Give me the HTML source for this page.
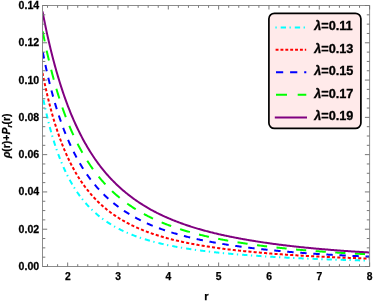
<!DOCTYPE html>
<html><head><meta charset="utf-8"><style>
html,body{margin:0;padding:0;background:#fff;}
svg .lg text{stroke:#000;stroke-width:0.3px;}
svg{display:block;font-family:"Liberation Sans",sans-serif;font-weight:bold;}
</style></head><body>
<svg width="373" height="301" viewBox="0 0 373 301">
<rect width="373" height="301" fill="#fff"/>
<defs><clipPath id="c"><rect x="42.5" y="5.5" width="327.1" height="261.0"/></clipPath></defs>
<g clip-path="url(#c)">
<path d="M42.50,95.09 L43.32,99.22 L44.14,103.20 L44.96,107.04 L45.78,110.75 L46.60,114.33 L47.42,117.79 L48.24,121.13 L49.06,124.36 L49.88,127.48 L50.70,130.50 L51.52,133.43 L52.34,136.26 L53.16,139.00 L53.98,141.65 L54.80,144.23 L55.62,146.72 L56.44,149.14 L57.26,151.48 L58.08,153.76 L58.90,155.96 L59.72,158.11 L60.54,160.19 L61.36,162.22 L62.18,164.19 L62.99,166.10 L63.81,167.96 L64.63,169.77 L65.45,171.53 L66.27,173.24 L67.09,174.90 L67.91,176.53 L68.73,178.10 L69.55,179.64 L70.37,181.14 L71.19,182.59 L72.01,184.02 L72.83,185.40 L73.65,186.75 L74.47,188.07 L75.29,189.35 L76.11,190.60 L76.93,191.82 L77.75,193.01 L78.57,194.18 L79.39,195.31 L80.21,196.42 L81.03,197.51 L81.85,198.56 L82.67,199.60 L83.49,200.61 L84.31,201.59 L85.13,202.56 L85.95,203.50 L86.77,204.42 L87.59,205.33 L88.41,206.21 L89.23,207.07 L90.05,207.92 L90.87,208.74 L91.69,209.55 L92.51,210.34 L93.33,211.12 L94.15,211.88 L94.97,212.62 L95.79,213.35 L96.61,214.06 L97.43,214.76 L98.25,215.45 L99.07,216.12 L99.89,216.77 L100.71,217.42 L101.53,218.04 L102.35,218.66 L103.17,219.26 L103.98,219.85 L104.80,220.44 L105.62,221.00 L106.44,221.56 L107.26,222.11 L108.08,222.65 L108.90,223.18 L109.72,223.70 L110.54,224.20 L111.36,224.70 L112.18,225.19 L113.00,225.68 L113.82,226.15 L114.64,226.61 L115.46,227.07 L116.28,227.52 L117.10,227.96 L117.92,228.39 L118.74,228.82 L119.56,229.23 L120.38,229.65 L121.20,230.05 L122.02,230.45 L122.84,230.84 L123.66,231.22 L124.48,231.60 L125.30,231.97 L126.12,232.33 L126.94,232.69 L127.76,233.05 L128.58,233.40 L129.40,233.74 L130.22,234.07 L131.04,234.41 L131.86,234.73 L132.68,235.05 L133.50,235.37 L134.32,235.68 L135.14,235.99 L135.96,236.29 L136.78,236.58 L137.60,236.88 L138.42,237.16 L139.24,237.45 L140.06,237.73 L140.88,238.00 L141.70,238.27 L142.52,238.54 L143.34,238.81 L144.16,239.06 L144.97,239.32 L145.79,239.57 L146.61,239.82 L147.43,240.07 L148.25,240.31 L149.07,240.54 L149.89,240.78 L150.71,241.01 L151.53,241.23 L152.35,241.46 L153.17,241.68 L153.99,241.89 L154.81,242.11 L155.63,242.32 L156.45,242.52 L157.27,242.73 L158.09,242.93 L158.91,243.13 L159.73,243.33 L160.55,243.52 L161.37,243.71 L162.19,243.90 L163.01,244.09 L163.83,244.27 L164.65,244.45 L165.47,244.63 L166.29,244.81 L167.11,244.98 L167.93,245.15 L168.75,245.32 L169.57,245.49 L170.39,245.66 L171.21,245.82 L172.03,245.98 L172.85,246.14 L173.67,246.30 L174.49,246.45 L175.31,246.61 L176.13,246.76 L176.95,246.91 L177.77,247.06 L178.59,247.20 L179.41,247.35 L180.23,247.49 L181.05,247.63 L181.87,247.77 L182.69,247.91 L183.51,248.05 L184.33,248.18 L185.15,248.31 L185.96,248.44 L186.78,248.57 L187.60,248.70 L188.42,248.83 L189.24,248.95 L190.06,249.08 L190.88,249.20 L191.70,249.32 L192.52,249.44 L193.34,249.56 L194.16,249.68 L194.98,249.79 L195.80,249.91 L196.62,250.02 L197.44,250.13 L198.26,250.24 L199.08,250.35 L199.90,250.46 L200.72,250.57 L201.54,250.67 L202.36,250.78 L203.18,250.88 L204.00,250.98 L204.82,251.08 L205.64,251.18 L206.46,251.28 L207.28,251.38 L208.10,251.48 L208.92,251.57 L209.74,251.67 L210.56,251.76 L211.38,251.86 L212.20,251.95 L213.02,252.04 L213.84,252.13 L214.66,252.22 L215.48,252.31 L216.30,252.40 L217.12,252.48 L217.94,252.57 L218.76,252.65 L219.58,252.74 L220.40,252.82 L221.22,252.90 L222.04,252.98 L222.86,253.06 L223.68,253.14 L224.50,253.22 L225.32,253.30 L226.14,253.38 L226.95,253.46 L227.77,253.53 L228.59,253.61 L229.41,253.68 L230.23,253.76 L231.05,253.83 L231.87,253.90 L232.69,253.97 L233.51,254.04 L234.33,254.11 L235.15,254.18 L235.97,254.25 L236.79,254.32 L237.61,254.39 L238.43,254.46 L239.25,254.52 L240.07,254.59 L240.89,254.65 L241.71,254.72 L242.53,254.78 L243.35,254.85 L244.17,254.91 L244.99,254.97 L245.81,255.03 L246.63,255.09 L247.45,255.16 L248.27,255.22 L249.09,255.27 L249.91,255.33 L250.73,255.39 L251.55,255.46 L252.37,255.52 L253.19,255.57 L254.01,255.63 L254.83,255.69 L255.65,255.75 L256.47,255.81 L257.29,255.86 L258.11,255.92 L258.93,255.98 L259.75,256.03 L260.57,256.09 L261.39,256.14 L262.21,256.20 L263.03,256.25 L263.85,256.30 L264.67,256.36 L265.49,256.41 L266.31,256.46 L267.13,256.51 L267.94,256.56 L268.76,256.62 L269.58,256.67 L270.40,256.72 L271.22,256.77 L272.04,256.81 L272.86,256.86 L273.68,256.91 L274.50,256.96 L275.32,257.01 L276.14,257.06 L276.96,257.10 L277.78,257.15 L278.60,257.20 L279.42,257.24 L280.24,257.29 L281.06,257.33 L281.88,257.38 L282.70,257.42 L283.52,257.47 L284.34,257.51 L285.16,257.55 L285.98,257.60 L286.80,257.64 L287.62,257.68 L288.44,257.73 L289.26,257.77 L290.08,257.81 L290.90,257.85 L291.72,257.89 L292.54,257.93 L293.36,257.97 L294.18,258.01 L295.00,258.05 L295.82,258.09 L296.64,258.13 L297.46,258.17 L298.28,258.21 L299.10,258.25 L299.92,258.29 L300.74,258.32 L301.56,258.36 L302.38,258.39 L303.20,258.43 L304.02,258.47 L304.84,258.50 L305.66,258.54 L306.48,258.57 L307.30,258.60 L308.12,258.64 L308.93,258.67 L309.75,258.71 L310.57,258.74 L311.39,258.77 L312.21,258.80 L313.03,258.84 L313.85,258.87 L314.67,258.90 L315.49,258.93 L316.31,258.97 L317.13,259.00 L317.95,259.03 L318.77,259.06 L319.59,259.09 L320.41,259.12 L321.23,259.15 L322.05,259.18 L322.87,259.21 L323.69,259.24 L324.51,259.27 L325.33,259.30 L326.15,259.33 L326.97,259.36 L327.79,259.39 L328.61,259.42 L329.43,259.44 L330.25,259.47 L331.07,259.50 L331.89,259.53 L332.71,259.56 L333.53,259.58 L334.35,259.61 L335.17,259.64 L335.99,259.67 L336.81,259.69 L337.63,259.72 L338.45,259.74 L339.27,259.77 L340.09,259.80 L340.91,259.82 L341.73,259.85 L342.55,259.87 L343.37,259.90 L344.19,259.93 L345.01,259.95 L345.83,259.98 L346.65,260.00 L347.47,260.02 L348.29,260.05 L349.11,260.07 L349.92,260.10 L350.74,260.12 L351.56,260.15 L352.38,260.17 L353.20,260.19 L354.02,260.22 L354.84,260.24 L355.66,260.26 L356.48,260.29 L357.30,260.31 L358.12,260.33 L358.94,260.35 L359.76,260.38 L360.58,260.40 L361.40,260.42 L362.22,260.44 L363.04,260.46 L363.86,260.49 L364.68,260.51 L365.50,260.53 L366.32,260.55 L367.14,260.57 L367.96,260.59 L368.78,260.61 L369.60,260.63" fill="none" stroke="#00ffff" stroke-width="2.0" stroke-dasharray="1.3 4 5.3 3.5" stroke-dashoffset="0.65"/>
<path d="M42.50,72.83 L43.32,76.95 L44.14,80.94 L44.96,84.80 L45.78,88.54 L46.60,92.17 L47.42,95.69 L48.24,99.10 L49.06,102.41 L49.88,105.62 L50.70,108.74 L51.52,111.77 L52.34,114.71 L53.16,117.57 L53.98,120.35 L54.80,123.05 L55.62,125.67 L56.44,128.23 L57.26,130.71 L58.08,133.13 L58.90,135.48 L59.72,137.77 L60.54,140.01 L61.36,142.19 L62.18,144.31 L62.99,146.38 L63.81,148.40 L64.63,150.36 L65.45,152.28 L66.27,154.15 L67.09,155.97 L67.91,157.75 L68.73,159.49 L69.55,161.19 L70.37,162.84 L71.19,164.46 L72.01,166.04 L72.83,167.58 L73.65,169.08 L74.47,170.56 L75.29,172.00 L76.11,173.40 L76.93,174.78 L77.75,176.12 L78.57,177.44 L79.39,178.72 L80.21,179.98 L81.03,181.22 L81.85,182.42 L82.67,183.60 L83.49,184.76 L84.31,185.89 L85.13,186.99 L85.95,188.08 L86.77,189.14 L87.59,190.18 L88.41,191.20 L89.23,192.20 L90.05,193.18 L90.87,194.14 L91.69,195.08 L92.51,196.01 L93.33,196.91 L94.15,197.80 L94.97,198.67 L95.79,199.52 L96.61,200.36 L97.43,201.18 L98.25,201.99 L99.07,202.78 L99.89,203.56 L100.71,204.32 L101.53,205.06 L102.35,205.80 L103.17,206.51 L103.98,207.22 L104.80,207.91 L105.62,208.59 L106.44,209.26 L107.26,209.92 L108.08,210.56 L108.90,211.20 L109.72,211.82 L110.54,212.43 L111.36,213.03 L112.18,213.62 L113.00,214.21 L113.82,214.78 L114.64,215.34 L115.46,215.89 L116.28,216.44 L117.10,216.97 L117.92,217.50 L118.74,218.02 L119.56,218.53 L120.38,219.03 L121.20,219.52 L122.02,220.01 L122.84,220.49 L123.66,220.96 L124.48,221.42 L125.30,221.88 L126.12,222.32 L126.94,222.77 L127.76,223.20 L128.58,223.63 L129.40,224.05 L130.22,224.47 L131.04,224.88 L131.86,225.28 L132.68,225.68 L133.50,226.07 L134.32,226.46 L135.14,226.84 L135.96,227.21 L136.78,227.58 L137.60,227.95 L138.42,228.30 L139.24,228.66 L140.06,229.01 L140.88,229.35 L141.70,229.69 L142.52,230.02 L143.34,230.35 L144.16,230.68 L144.97,231.00 L145.79,231.32 L146.61,231.63 L147.43,231.94 L148.25,232.24 L149.07,232.54 L149.89,232.83 L150.71,233.12 L151.53,233.41 L152.35,233.69 L153.17,233.97 L153.99,234.24 L154.81,234.51 L155.63,234.78 L156.45,235.04 L157.27,235.30 L158.09,235.56 L158.91,235.81 L159.73,236.06 L160.55,236.31 L161.37,236.55 L162.19,236.79 L163.01,237.03 L163.83,237.27 L164.65,237.50 L165.47,237.73 L166.29,237.95 L167.11,238.18 L167.93,238.40 L168.75,238.61 L169.57,238.83 L170.39,239.04 L171.21,239.25 L172.03,239.46 L172.85,239.66 L173.67,239.87 L174.49,240.07 L175.31,240.27 L176.13,240.46 L176.95,240.65 L177.77,240.84 L178.59,241.03 L179.41,241.22 L180.23,241.40 L181.05,241.59 L181.87,241.77 L182.69,241.95 L183.51,242.12 L184.33,242.30 L185.15,242.47 L185.96,242.64 L186.78,242.81 L187.60,242.97 L188.42,243.14 L189.24,243.30 L190.06,243.46 L190.88,243.62 L191.70,243.78 L192.52,243.93 L193.34,244.09 L194.16,244.24 L194.98,244.39 L195.80,244.54 L196.62,244.69 L197.44,244.83 L198.26,244.98 L199.08,245.12 L199.90,245.26 L200.72,245.40 L201.54,245.54 L202.36,245.68 L203.18,245.81 L204.00,245.95 L204.82,246.08 L205.64,246.21 L206.46,246.34 L207.28,246.47 L208.10,246.60 L208.92,246.72 L209.74,246.85 L210.56,246.97 L211.38,247.09 L212.20,247.21 L213.02,247.33 L213.84,247.45 L214.66,247.57 L215.48,247.69 L216.30,247.80 L217.12,247.92 L217.94,248.03 L218.76,248.14 L219.58,248.25 L220.40,248.36 L221.22,248.47 L222.04,248.58 L222.86,248.68 L223.68,248.79 L224.50,248.89 L225.32,249.00 L226.14,249.10 L226.95,249.20 L227.77,249.30 L228.59,249.40 L229.41,249.50 L230.23,249.60 L231.05,249.69 L231.87,249.79 L232.69,249.89 L233.51,249.98 L234.33,250.07 L235.15,250.17 L235.97,250.26 L236.79,250.35 L237.61,250.44 L238.43,250.53 L239.25,250.62 L240.07,250.70 L240.89,250.79 L241.71,250.88 L242.53,250.96 L243.35,251.05 L244.17,251.13 L244.99,251.21 L245.81,251.30 L246.63,251.38 L247.45,251.46 L248.27,251.54 L249.09,251.62 L249.91,251.70 L250.73,251.78 L251.55,251.86 L252.37,251.93 L253.19,252.01 L254.01,252.09 L254.83,252.17 L255.65,252.24 L256.47,252.32 L257.29,252.39 L258.11,252.47 L258.93,252.54 L259.75,252.61 L260.57,252.68 L261.39,252.75 L262.21,252.83 L263.03,252.90 L263.85,252.97 L264.67,253.04 L265.49,253.10 L266.31,253.17 L267.13,253.24 L267.94,253.31 L268.76,253.37 L269.58,253.44 L270.40,253.51 L271.22,253.57 L272.04,253.64 L272.86,253.70 L273.68,253.76 L274.50,253.83 L275.32,253.89 L276.14,253.95 L276.96,254.01 L277.78,254.07 L278.60,254.13 L279.42,254.19 L280.24,254.25 L281.06,254.31 L281.88,254.37 L282.70,254.43 L283.52,254.49 L284.34,254.55 L285.16,254.60 L285.98,254.66 L286.80,254.72 L287.62,254.77 L288.44,254.83 L289.26,254.88 L290.08,254.94 L290.90,254.99 L291.72,255.04 L292.54,255.10 L293.36,255.15 L294.18,255.20 L295.00,255.26 L295.82,255.31 L296.64,255.36 L297.46,255.41 L298.28,255.46 L299.10,255.51 L299.92,255.56 L300.74,255.61 L301.56,255.66 L302.38,255.70 L303.20,255.75 L304.02,255.80 L304.84,255.84 L305.66,255.89 L306.48,255.93 L307.30,255.98 L308.12,256.02 L308.93,256.07 L309.75,256.11 L310.57,256.16 L311.39,256.20 L312.21,256.24 L313.03,256.29 L313.85,256.33 L314.67,256.37 L315.49,256.41 L316.31,256.45 L317.13,256.50 L317.95,256.54 L318.77,256.58 L319.59,256.62 L320.41,256.66 L321.23,256.70 L322.05,256.74 L322.87,256.78 L323.69,256.82 L324.51,256.86 L325.33,256.89 L326.15,256.93 L326.97,256.97 L327.79,257.01 L328.61,257.05 L329.43,257.08 L330.25,257.12 L331.07,257.16 L331.89,257.19 L332.71,257.23 L333.53,257.27 L334.35,257.30 L335.17,257.34 L335.99,257.37 L336.81,257.41 L337.63,257.44 L338.45,257.48 L339.27,257.51 L340.09,257.55 L340.91,257.58 L341.73,257.61 L342.55,257.64 L343.37,257.67 L344.19,257.71 L345.01,257.74 L345.83,257.77 L346.65,257.80 L347.47,257.83 L348.29,257.86 L349.11,257.89 L349.92,257.92 L350.74,257.95 L351.56,257.98 L352.38,258.01 L353.20,258.04 L354.02,258.07 L354.84,258.09 L355.66,258.12 L356.48,258.15 L357.30,258.18 L358.12,258.21 L358.94,258.24 L359.76,258.26 L360.58,258.29 L361.40,258.32 L362.22,258.34 L363.04,258.37 L363.86,258.40 L364.68,258.42 L365.50,258.45 L366.32,258.48 L367.14,258.50 L367.96,258.53 L368.78,258.55 L369.60,258.58" fill="none" stroke="#ff0000" stroke-width="2.0" stroke-dasharray="3.1 2.14" stroke-dashoffset="0"/>
<path d="M42.50,50.51 L43.32,54.74 L44.14,58.83 L44.96,62.81 L45.78,66.67 L46.60,70.42 L47.42,74.06 L48.24,77.60 L49.06,81.03 L49.88,84.37 L50.70,87.62 L51.52,90.78 L52.34,93.86 L53.16,96.85 L53.98,99.77 L54.80,102.60 L55.62,105.37 L56.44,108.06 L57.26,110.68 L58.08,113.24 L58.90,115.73 L59.72,118.16 L60.54,120.53 L61.36,122.85 L62.18,125.11 L62.99,127.32 L63.81,129.48 L64.63,131.58 L65.45,133.64 L66.27,135.64 L67.09,137.61 L67.91,139.52 L68.73,141.40 L69.55,143.23 L70.37,145.03 L71.19,146.79 L72.01,148.52 L72.83,150.21 L73.65,151.87 L74.47,153.49 L75.29,155.08 L76.11,156.63 L76.93,158.15 L77.75,159.64 L78.57,161.10 L79.39,162.53 L80.21,163.94 L81.03,165.31 L81.85,166.66 L82.67,167.98 L83.49,169.27 L84.31,170.54 L85.13,171.78 L85.95,173.01 L86.77,174.20 L87.59,175.38 L88.41,176.53 L89.23,177.67 L90.05,178.78 L90.87,179.85 L91.69,180.91 L92.51,181.95 L93.33,182.96 L94.15,183.96 L94.97,184.95 L95.79,185.91 L96.61,186.86 L97.43,187.79 L98.25,188.70 L99.07,189.60 L99.89,190.48 L100.71,191.35 L101.53,192.20 L102.35,193.03 L103.17,193.85 L103.98,194.66 L104.80,195.45 L105.62,196.23 L106.44,197.00 L107.26,197.75 L108.08,198.49 L108.90,199.22 L109.72,199.94 L110.54,200.65 L111.36,201.34 L112.18,202.03 L113.00,202.70 L113.82,203.36 L114.64,204.02 L115.46,204.66 L116.28,205.29 L117.10,205.91 L117.92,206.53 L118.74,207.13 L119.56,207.73 L120.38,208.31 L121.20,208.89 L122.02,209.46 L122.84,210.02 L123.66,210.57 L124.48,211.11 L125.30,211.65 L126.12,212.18 L126.94,212.70 L127.76,213.21 L128.58,213.72 L129.40,214.22 L130.22,214.71 L131.04,215.19 L131.86,215.66 L132.68,216.13 L133.50,216.59 L134.32,217.05 L135.14,217.50 L135.96,217.94 L136.78,218.37 L137.60,218.80 L138.42,219.23 L139.24,219.65 L140.06,220.06 L140.88,220.47 L141.70,220.87 L142.52,221.27 L143.34,221.66 L144.16,222.04 L144.97,222.42 L145.79,222.80 L146.61,223.17 L147.43,223.54 L148.25,223.90 L149.07,224.26 L149.89,224.61 L150.71,224.96 L151.53,225.30 L152.35,225.64 L153.17,225.97 L153.99,226.30 L154.81,226.62 L155.63,226.94 L156.45,227.26 L157.27,227.57 L158.09,227.88 L158.91,228.19 L159.73,228.49 L160.55,228.79 L161.37,229.08 L162.19,229.37 L163.01,229.66 L163.83,229.94 L164.65,230.22 L165.47,230.50 L166.29,230.77 L167.11,231.04 L167.93,231.31 L168.75,231.58 L169.57,231.84 L170.39,232.10 L171.21,232.35 L172.03,232.60 L172.85,232.85 L173.67,233.10 L174.49,233.34 L175.31,233.58 L176.13,233.82 L176.95,234.06 L177.77,234.29 L178.59,234.52 L179.41,234.75 L180.23,234.98 L181.05,235.20 L181.87,235.42 L182.69,235.64 L183.51,235.85 L184.33,236.07 L185.15,236.28 L185.96,236.49 L186.78,236.69 L187.60,236.90 L188.42,237.10 L189.24,237.30 L190.06,237.50 L190.88,237.70 L191.70,237.89 L192.52,238.08 L193.34,238.27 L194.16,238.46 L194.98,238.65 L195.80,238.83 L196.62,239.01 L197.44,239.19 L198.26,239.37 L199.08,239.55 L199.90,239.72 L200.72,239.90 L201.54,240.07 L202.36,240.24 L203.18,240.40 L204.00,240.57 L204.82,240.73 L205.64,240.90 L206.46,241.06 L207.28,241.22 L208.10,241.38 L208.92,241.53 L209.74,241.69 L210.56,241.84 L211.38,241.99 L212.20,242.14 L213.02,242.29 L213.84,242.44 L214.66,242.59 L215.48,242.73 L216.30,242.88 L217.12,243.02 L217.94,243.16 L218.76,243.30 L219.58,243.44 L220.40,243.57 L221.22,243.71 L222.04,243.85 L222.86,243.98 L223.68,244.12 L224.50,244.25 L225.32,244.38 L226.14,244.51 L226.95,244.64 L227.77,244.77 L228.59,244.90 L229.41,245.02 L230.23,245.15 L231.05,245.27 L231.87,245.39 L232.69,245.51 L233.51,245.63 L234.33,245.75 L235.15,245.87 L235.97,245.99 L236.79,246.10 L237.61,246.22 L238.43,246.33 L239.25,246.44 L240.07,246.56 L240.89,246.67 L241.71,246.78 L242.53,246.89 L243.35,246.99 L244.17,247.10 L244.99,247.21 L245.81,247.31 L246.63,247.42 L247.45,247.52 L248.27,247.62 L249.09,247.73 L249.91,247.83 L250.73,247.93 L251.55,248.03 L252.37,248.13 L253.19,248.23 L254.01,248.32 L254.83,248.42 L255.65,248.52 L256.47,248.61 L257.29,248.71 L258.11,248.80 L258.93,248.89 L259.75,248.99 L260.57,249.08 L261.39,249.17 L262.21,249.26 L263.03,249.35 L263.85,249.44 L264.67,249.53 L265.49,249.61 L266.31,249.70 L267.13,249.79 L267.94,249.87 L268.76,249.96 L269.58,250.04 L270.40,250.12 L271.22,250.21 L272.04,250.29 L272.86,250.37 L273.68,250.45 L274.50,250.53 L275.32,250.61 L276.14,250.69 L276.96,250.77 L277.78,250.85 L278.60,250.92 L279.42,251.00 L280.24,251.08 L281.06,251.15 L281.88,251.23 L282.70,251.30 L283.52,251.37 L284.34,251.45 L285.16,251.52 L285.98,251.59 L286.80,251.66 L287.62,251.74 L288.44,251.81 L289.26,251.88 L290.08,251.95 L290.90,252.02 L291.72,252.08 L292.54,252.15 L293.36,252.22 L294.18,252.29 L295.00,252.35 L295.82,252.42 L296.64,252.48 L297.46,252.55 L298.28,252.61 L299.10,252.68 L299.92,252.74 L300.74,252.80 L301.56,252.87 L302.38,252.93 L303.20,252.99 L304.02,253.05 L304.84,253.10 L305.66,253.16 L306.48,253.22 L307.30,253.28 L308.12,253.34 L308.93,253.39 L309.75,253.45 L310.57,253.51 L311.39,253.56 L312.21,253.62 L313.03,253.67 L313.85,253.73 L314.67,253.78 L315.49,253.84 L316.31,253.89 L317.13,253.94 L317.95,253.99 L318.77,254.05 L319.59,254.10 L320.41,254.15 L321.23,254.20 L322.05,254.25 L322.87,254.30 L323.69,254.35 L324.51,254.40 L325.33,254.45 L326.15,254.50 L326.97,254.55 L327.79,254.60 L328.61,254.65 L329.43,254.70 L330.25,254.74 L331.07,254.79 L331.89,254.84 L332.71,254.88 L333.53,254.93 L334.35,254.98 L335.17,255.02 L335.99,255.07 L336.81,255.11 L337.63,255.16 L338.45,255.20 L339.27,255.25 L340.09,255.29 L340.91,255.33 L341.73,255.37 L342.55,255.42 L343.37,255.46 L344.19,255.50 L345.01,255.54 L345.83,255.58 L346.65,255.62 L347.47,255.66 L348.29,255.70 L349.11,255.74 L349.92,255.78 L350.74,255.82 L351.56,255.86 L352.38,255.90 L353.20,255.94 L354.02,255.97 L354.84,256.01 L355.66,256.05 L356.48,256.09 L357.30,256.12 L358.12,256.16 L358.94,256.20 L359.76,256.23 L360.58,256.27 L361.40,256.31 L362.22,256.34 L363.04,256.38 L363.86,256.41 L364.68,256.45 L365.50,256.48 L366.32,256.52 L367.14,256.55 L367.96,256.59 L368.78,256.62 L369.60,256.65" fill="none" stroke="#0000ff" stroke-width="2.0" stroke-dasharray="6.4 6.675" stroke-dashoffset="-1.7"/>
<path d="M42.50,30.32 L43.32,34.52 L44.14,38.60 L44.96,42.59 L45.78,46.46 L46.60,50.24 L47.42,53.93 L48.24,57.52 L49.06,61.02 L49.88,64.44 L50.70,67.77 L51.52,71.02 L52.34,74.19 L53.16,77.29 L53.98,80.31 L54.80,83.26 L55.62,86.15 L56.44,88.96 L57.26,91.71 L58.08,94.40 L58.90,97.02 L59.72,99.59 L60.54,102.10 L61.36,104.56 L62.18,106.96 L62.99,109.32 L63.81,111.62 L64.63,113.87 L65.45,116.07 L66.27,118.22 L67.09,120.33 L67.91,122.40 L68.73,124.42 L69.55,126.40 L70.37,128.34 L71.19,130.24 L72.01,132.10 L72.83,133.92 L73.65,135.71 L74.47,137.46 L75.29,139.18 L76.11,140.86 L76.93,142.51 L77.75,144.13 L78.57,145.71 L79.39,147.27 L80.21,148.80 L81.03,150.29 L81.85,151.76 L82.67,153.20 L83.49,154.62 L84.31,156.01 L85.13,157.37 L85.95,158.71 L86.77,160.02 L87.59,161.31 L88.41,162.58 L89.23,163.82 L90.05,165.04 L90.87,166.24 L91.69,167.42 L92.51,168.58 L93.33,169.72 L94.15,170.84 L94.97,171.94 L95.79,173.02 L96.61,174.08 L97.43,175.12 L98.25,176.15 L99.07,177.16 L99.89,178.15 L100.71,179.13 L101.53,180.08 L102.35,181.02 L103.17,181.95 L103.98,182.86 L104.80,183.75 L105.62,184.63 L106.44,185.50 L107.26,186.36 L108.08,187.19 L108.90,188.02 L109.72,188.83 L110.54,189.64 L111.36,190.42 L112.18,191.20 L113.00,191.96 L113.82,192.72 L114.64,193.46 L115.46,194.19 L116.28,194.91 L117.10,195.62 L117.92,196.31 L118.74,197.00 L119.56,197.68 L120.38,198.35 L121.20,199.00 L122.02,199.65 L122.84,200.29 L123.66,200.92 L124.48,201.54 L125.30,202.15 L126.12,202.76 L126.94,203.35 L127.76,203.94 L128.58,204.51 L129.40,205.08 L130.22,205.65 L131.04,206.20 L131.86,206.75 L132.68,207.29 L133.50,207.82 L134.32,208.34 L135.14,208.86 L135.96,209.37 L136.78,209.87 L137.60,210.37 L138.42,210.86 L139.24,211.35 L140.06,211.82 L140.88,212.29 L141.70,212.76 L142.52,213.22 L143.34,213.67 L144.16,214.12 L144.97,214.56 L145.79,215.00 L146.61,215.43 L147.43,215.85 L148.25,216.27 L149.07,216.69 L149.89,217.10 L150.71,217.50 L151.53,217.90 L152.35,218.29 L153.17,218.67 L153.99,219.06 L154.81,219.43 L155.63,219.81 L156.45,220.17 L157.27,220.54 L158.09,220.90 L158.91,221.25 L159.73,221.60 L160.55,221.95 L161.37,222.29 L162.19,222.63 L163.01,222.97 L163.83,223.30 L164.65,223.62 L165.47,223.95 L166.29,224.27 L167.11,224.58 L167.93,224.89 L168.75,225.20 L169.57,225.51 L170.39,225.81 L171.21,226.11 L172.03,226.40 L172.85,226.69 L173.67,226.98 L174.49,227.27 L175.31,227.55 L176.13,227.83 L176.95,228.10 L177.77,228.37 L178.59,228.64 L179.41,228.91 L180.23,229.17 L181.05,229.43 L181.87,229.69 L182.69,229.95 L183.51,230.20 L184.33,230.45 L185.15,230.70 L185.96,230.94 L186.78,231.18 L187.60,231.42 L188.42,231.66 L189.24,231.89 L190.06,232.12 L190.88,232.35 L191.70,232.58 L192.52,232.80 L193.34,233.03 L194.16,233.25 L194.98,233.46 L195.80,233.68 L196.62,233.89 L197.44,234.10 L198.26,234.31 L199.08,234.52 L199.90,234.72 L200.72,234.93 L201.54,235.13 L202.36,235.33 L203.18,235.52 L204.00,235.72 L204.82,235.91 L205.64,236.10 L206.46,236.29 L207.28,236.48 L208.10,236.67 L208.92,236.85 L209.74,237.03 L210.56,237.21 L211.38,237.39 L212.20,237.57 L213.02,237.74 L213.84,237.91 L214.66,238.09 L215.48,238.26 L216.30,238.43 L217.12,238.59 L217.94,238.76 L218.76,238.92 L219.58,239.08 L220.40,239.25 L221.22,239.40 L222.04,239.56 L222.86,239.72 L223.68,239.87 L224.50,240.03 L225.32,240.18 L226.14,240.33 L226.95,240.48 L227.77,240.63 L228.59,240.77 L229.41,240.92 L230.23,241.06 L231.05,241.21 L231.87,241.35 L232.69,241.49 L233.51,241.63 L234.33,241.77 L235.15,241.90 L235.97,242.04 L236.79,242.17 L237.61,242.31 L238.43,242.44 L239.25,242.57 L240.07,242.70 L240.89,242.83 L241.71,242.95 L242.53,243.08 L243.35,243.21 L244.17,243.33 L244.99,243.45 L245.81,243.58 L246.63,243.70 L247.45,243.82 L248.27,243.94 L249.09,244.05 L249.91,244.17 L250.73,244.29 L251.55,244.40 L252.37,244.52 L253.19,244.63 L254.01,244.75 L254.83,244.86 L255.65,244.97 L256.47,245.08 L257.29,245.19 L258.11,245.30 L258.93,245.41 L259.75,245.51 L260.57,245.62 L261.39,245.73 L262.21,245.83 L263.03,245.93 L263.85,246.04 L264.67,246.14 L265.49,246.24 L266.31,246.34 L267.13,246.44 L267.94,246.54 L268.76,246.64 L269.58,246.73 L270.40,246.83 L271.22,246.93 L272.04,247.02 L272.86,247.11 L273.68,247.21 L274.50,247.30 L275.32,247.39 L276.14,247.48 L276.96,247.58 L277.78,247.67 L278.60,247.75 L279.42,247.84 L280.24,247.93 L281.06,248.02 L281.88,248.11 L282.70,248.19 L283.52,248.28 L284.34,248.36 L285.16,248.45 L285.98,248.53 L286.80,248.61 L287.62,248.70 L288.44,248.78 L289.26,248.86 L290.08,248.94 L290.90,249.02 L291.72,249.10 L292.54,249.18 L293.36,249.26 L294.18,249.33 L295.00,249.41 L295.82,249.49 L296.64,249.56 L297.46,249.64 L298.28,249.71 L299.10,249.79 L299.92,249.86 L300.74,249.93 L301.56,250.00 L302.38,250.07 L303.20,250.14 L304.02,250.21 L304.84,250.28 L305.66,250.34 L306.48,250.41 L307.30,250.48 L308.12,250.54 L308.93,250.61 L309.75,250.67 L310.57,250.74 L311.39,250.80 L312.21,250.86 L313.03,250.93 L313.85,250.99 L314.67,251.05 L315.49,251.11 L316.31,251.18 L317.13,251.24 L317.95,251.30 L318.77,251.36 L319.59,251.42 L320.41,251.48 L321.23,251.53 L322.05,251.59 L322.87,251.65 L323.69,251.71 L324.51,251.77 L325.33,251.82 L326.15,251.88 L326.97,251.93 L327.79,251.99 L328.61,252.04 L329.43,252.10 L330.25,252.15 L331.07,252.21 L331.89,252.26 L332.71,252.32 L333.53,252.37 L334.35,252.42 L335.17,252.47 L335.99,252.53 L336.81,252.58 L337.63,252.63 L338.45,252.68 L339.27,252.73 L340.09,252.78 L340.91,252.83 L341.73,252.88 L342.55,252.92 L343.37,252.97 L344.19,253.02 L345.01,253.07 L345.83,253.11 L346.65,253.16 L347.47,253.21 L348.29,253.25 L349.11,253.30 L349.92,253.34 L350.74,253.39 L351.56,253.43 L352.38,253.48 L353.20,253.52 L354.02,253.57 L354.84,253.61 L355.66,253.65 L356.48,253.70 L357.30,253.74 L358.12,253.78 L358.94,253.82 L359.76,253.87 L360.58,253.91 L361.40,253.95 L362.22,253.99 L363.04,254.03 L363.86,254.07 L364.68,254.11 L365.50,254.15 L366.32,254.19 L367.14,254.23 L367.96,254.27 L368.78,254.31 L369.60,254.35" fill="none" stroke="#00ff00" stroke-width="2.0" stroke-dasharray="10.2 9.455" stroke-dashoffset="-1.1"/>
<path d="M42.50,11.41 L43.32,15.65 L44.14,19.79 L44.96,23.82 L45.78,27.76 L46.60,31.60 L47.42,35.34 L48.24,39.00 L49.06,42.57 L49.88,46.06 L50.70,49.47 L51.52,52.80 L52.34,56.05 L53.16,59.23 L53.98,62.33 L54.80,65.37 L55.62,68.34 L56.44,71.24 L57.26,74.08 L58.08,76.86 L58.90,79.58 L59.72,82.24 L60.54,84.85 L61.36,87.40 L62.18,89.90 L62.99,92.35 L63.81,94.75 L64.63,97.10 L65.45,99.40 L66.27,101.66 L67.09,103.87 L67.91,106.03 L68.73,108.16 L69.55,110.24 L70.37,112.28 L71.19,114.28 L72.01,116.24 L72.83,118.16 L73.65,120.05 L74.47,121.90 L75.29,123.72 L76.11,125.50 L76.93,127.25 L77.75,128.97 L78.57,130.66 L79.39,132.31 L80.21,133.94 L81.03,135.55 L81.85,137.12 L82.67,138.67 L83.49,140.19 L84.31,141.69 L85.13,143.16 L85.95,144.60 L86.77,146.02 L87.59,147.41 L88.41,148.78 L89.23,150.13 L90.05,151.45 L90.87,152.76 L91.69,154.04 L92.51,155.30 L93.33,156.54 L94.15,157.75 L94.97,158.95 L95.79,160.13 L96.61,161.30 L97.43,162.44 L98.25,163.56 L99.07,164.67 L99.89,165.76 L100.71,166.82 L101.53,167.87 L102.35,168.89 L103.17,169.91 L103.98,170.90 L104.80,171.89 L105.62,172.85 L106.44,173.80 L107.26,174.74 L108.08,175.67 L108.90,176.58 L109.72,177.47 L110.54,178.36 L111.36,179.23 L112.18,180.08 L113.00,180.93 L113.82,181.76 L114.64,182.58 L115.46,183.39 L116.28,184.19 L117.10,184.97 L117.92,185.75 L118.74,186.51 L119.56,187.26 L120.38,188.01 L121.20,188.74 L122.02,189.46 L122.84,190.17 L123.66,190.87 L124.48,191.57 L125.30,192.25 L126.12,192.93 L126.94,193.59 L127.76,194.25 L128.58,194.89 L129.40,195.53 L130.22,196.16 L131.04,196.79 L131.86,197.40 L132.68,198.01 L133.50,198.60 L134.32,199.20 L135.14,199.78 L135.96,200.35 L136.78,200.92 L137.60,201.48 L138.42,202.04 L139.24,202.58 L140.06,203.12 L140.88,203.66 L141.70,204.18 L142.52,204.70 L143.34,205.22 L144.16,205.72 L144.97,206.23 L145.79,206.72 L146.61,207.21 L147.43,207.69 L148.25,208.17 L149.07,208.64 L149.89,209.11 L150.71,209.56 L151.53,210.01 L152.35,210.46 L153.17,210.90 L153.99,211.33 L154.81,211.76 L155.63,212.19 L156.45,212.61 L157.27,213.02 L158.09,213.43 L158.91,213.83 L159.73,214.23 L160.55,214.63 L161.37,215.02 L162.19,215.41 L163.01,215.79 L163.83,216.17 L164.65,216.54 L165.47,216.91 L166.29,217.28 L167.11,217.64 L167.93,217.99 L168.75,218.35 L169.57,218.70 L170.39,219.04 L171.21,219.38 L172.03,219.72 L172.85,220.06 L173.67,220.39 L174.49,220.71 L175.31,221.04 L176.13,221.36 L176.95,221.68 L177.77,221.99 L178.59,222.30 L179.41,222.61 L180.23,222.91 L181.05,223.21 L181.87,223.51 L182.69,223.80 L183.51,224.09 L184.33,224.38 L185.15,224.67 L185.96,224.95 L186.78,225.23 L187.60,225.50 L188.42,225.78 L189.24,226.05 L190.06,226.32 L190.88,226.58 L191.70,226.84 L192.52,227.10 L193.34,227.36 L194.16,227.61 L194.98,227.86 L195.80,228.11 L196.62,228.35 L197.44,228.60 L198.26,228.84 L199.08,229.08 L199.90,229.31 L200.72,229.55 L201.54,229.78 L202.36,230.01 L203.18,230.23 L204.00,230.46 L204.82,230.68 L205.64,230.90 L206.46,231.12 L207.28,231.34 L208.10,231.55 L208.92,231.76 L209.74,231.97 L210.56,232.18 L211.38,232.39 L212.20,232.59 L213.02,232.79 L213.84,233.00 L214.66,233.19 L215.48,233.39 L216.30,233.59 L217.12,233.78 L217.94,233.97 L218.76,234.16 L219.58,234.35 L220.40,234.54 L221.22,234.72 L222.04,234.90 L222.86,235.08 L223.68,235.26 L224.50,235.44 L225.32,235.62 L226.14,235.79 L226.95,235.97 L227.77,236.14 L228.59,236.31 L229.41,236.48 L230.23,236.65 L231.05,236.81 L231.87,236.98 L232.69,237.14 L233.51,237.31 L234.33,237.47 L235.15,237.63 L235.97,237.79 L236.79,237.95 L237.61,238.10 L238.43,238.26 L239.25,238.41 L240.07,238.57 L240.89,238.72 L241.71,238.87 L242.53,239.02 L243.35,239.16 L244.17,239.31 L244.99,239.46 L245.81,239.60 L246.63,239.74 L247.45,239.88 L248.27,240.02 L249.09,240.16 L249.91,240.30 L250.73,240.44 L251.55,240.58 L252.37,240.71 L253.19,240.85 L254.01,240.98 L254.83,241.11 L255.65,241.24 L256.47,241.37 L257.29,241.50 L258.11,241.63 L258.93,241.76 L259.75,241.88 L260.57,242.01 L261.39,242.13 L262.21,242.26 L263.03,242.38 L263.85,242.50 L264.67,242.62 L265.49,242.74 L266.31,242.86 L267.13,242.98 L267.94,243.09 L268.76,243.21 L269.58,243.33 L270.40,243.44 L271.22,243.55 L272.04,243.66 L272.86,243.78 L273.68,243.89 L274.50,244.00 L275.32,244.11 L276.14,244.21 L276.96,244.32 L277.78,244.43 L278.60,244.53 L279.42,244.64 L280.24,244.74 L281.06,244.85 L281.88,244.95 L282.70,245.05 L283.52,245.15 L284.34,245.25 L285.16,245.35 L285.98,245.45 L286.80,245.55 L287.62,245.65 L288.44,245.75 L289.26,245.84 L290.08,245.94 L290.90,246.03 L291.72,246.13 L292.54,246.22 L293.36,246.31 L294.18,246.40 L295.00,246.50 L295.82,246.59 L296.64,246.68 L297.46,246.77 L298.28,246.86 L299.10,246.94 L299.92,247.03 L300.74,247.12 L301.56,247.20 L302.38,247.29 L303.20,247.37 L304.02,247.45 L304.84,247.53 L305.66,247.62 L306.48,247.70 L307.30,247.78 L308.12,247.86 L308.93,247.94 L309.75,248.02 L310.57,248.09 L311.39,248.17 L312.21,248.25 L313.03,248.33 L313.85,248.40 L314.67,248.48 L315.49,248.55 L316.31,248.63 L317.13,248.70 L317.95,248.77 L318.77,248.85 L319.59,248.92 L320.41,248.99 L321.23,249.06 L322.05,249.13 L322.87,249.21 L323.69,249.28 L324.51,249.35 L325.33,249.41 L326.15,249.48 L326.97,249.55 L327.79,249.62 L328.61,249.69 L329.43,249.75 L330.25,249.82 L331.07,249.89 L331.89,249.95 L332.71,250.02 L333.53,250.08 L334.35,250.15 L335.17,250.21 L335.99,250.27 L336.81,250.34 L337.63,250.40 L338.45,250.46 L339.27,250.52 L340.09,250.58 L340.91,250.64 L341.73,250.70 L342.55,250.76 L343.37,250.82 L344.19,250.88 L345.01,250.94 L345.83,251.00 L346.65,251.05 L347.47,251.11 L348.29,251.17 L349.11,251.22 L349.92,251.28 L350.74,251.33 L351.56,251.39 L352.38,251.44 L353.20,251.50 L354.02,251.55 L354.84,251.61 L355.66,251.66 L356.48,251.71 L357.30,251.77 L358.12,251.82 L358.94,251.87 L359.76,251.92 L360.58,251.97 L361.40,252.02 L362.22,252.07 L363.04,252.12 L363.86,252.17 L364.68,252.22 L365.50,252.27 L366.32,252.32 L367.14,252.37 L367.96,252.42 L368.78,252.47 L369.60,252.52" fill="none" stroke="#800080" stroke-width="2.0"/>
</g>
<rect x="42.5" y="5.5" width="327.1" height="261.0" fill="none" stroke="#8c8c8c" stroke-width="1"/>
<path d="M47.53,266.5 v-2.3 M47.53,5.5 v2.3 M57.60,266.5 v-2.3 M57.60,5.5 v2.3 M67.66,266.5 v-4.0 M67.66,5.5 v4.0 M77.73,266.5 v-2.3 M77.73,5.5 v2.3 M87.79,266.5 v-2.3 M87.79,5.5 v2.3 M97.86,266.5 v-2.3 M97.86,5.5 v2.3 M107.92,266.5 v-2.3 M107.92,5.5 v2.3 M117.98,266.5 v-4.0 M117.98,5.5 v4.0 M128.05,266.5 v-2.3 M128.05,5.5 v2.3 M138.11,266.5 v-2.3 M138.11,5.5 v2.3 M148.18,266.5 v-2.3 M148.18,5.5 v2.3 M158.24,266.5 v-2.3 M158.24,5.5 v2.3 M168.31,266.5 v-4.0 M168.31,5.5 v4.0 M178.37,266.5 v-2.3 M178.37,5.5 v2.3 M188.44,266.5 v-2.3 M188.44,5.5 v2.3 M198.50,266.5 v-2.3 M198.50,5.5 v2.3 M208.57,266.5 v-2.3 M208.57,5.5 v2.3 M218.63,266.5 v-4.0 M218.63,5.5 v4.0 M228.70,266.5 v-2.3 M228.70,5.5 v2.3 M238.76,266.5 v-2.3 M238.76,5.5 v2.3 M248.82,266.5 v-2.3 M248.82,5.5 v2.3 M258.89,266.5 v-2.3 M258.89,5.5 v2.3 M268.95,266.5 v-4.0 M268.95,5.5 v4.0 M279.02,266.5 v-2.3 M279.02,5.5 v2.3 M289.08,266.5 v-2.3 M289.08,5.5 v2.3 M299.15,266.5 v-2.3 M299.15,5.5 v2.3 M309.21,266.5 v-2.3 M309.21,5.5 v2.3 M319.28,266.5 v-4.0 M319.28,5.5 v4.0 M329.34,266.5 v-2.3 M329.34,5.5 v2.3 M339.41,266.5 v-2.3 M339.41,5.5 v2.3 M349.47,266.5 v-2.3 M349.47,5.5 v2.3 M359.54,266.5 v-2.3 M359.54,5.5 v2.3 M369.60,266.5 v-4.0 M369.60,5.5 v4.0 M42.5,266.50 h4.7 M369.6,266.50 h-4.7 M42.5,257.18 h2.8 M369.6,257.18 h-2.8 M42.5,247.86 h2.8 M369.6,247.86 h-2.8 M42.5,238.54 h2.8 M369.6,238.54 h-2.8 M42.5,229.21 h4.7 M369.6,229.21 h-4.7 M42.5,219.89 h2.8 M369.6,219.89 h-2.8 M42.5,210.57 h2.8 M369.6,210.57 h-2.8 M42.5,201.25 h2.8 M369.6,201.25 h-2.8 M42.5,191.93 h4.7 M369.6,191.93 h-4.7 M42.5,182.61 h2.8 M369.6,182.61 h-2.8 M42.5,173.29 h2.8 M369.6,173.29 h-2.8 M42.5,163.96 h2.8 M369.6,163.96 h-2.8 M42.5,154.64 h4.7 M369.6,154.64 h-4.7 M42.5,145.32 h2.8 M369.6,145.32 h-2.8 M42.5,136.00 h2.8 M369.6,136.00 h-2.8 M42.5,126.68 h2.8 M369.6,126.68 h-2.8 M42.5,117.36 h4.7 M369.6,117.36 h-4.7 M42.5,108.04 h2.8 M369.6,108.04 h-2.8 M42.5,98.71 h2.8 M369.6,98.71 h-2.8 M42.5,89.39 h2.8 M369.6,89.39 h-2.8 M42.5,80.07 h4.7 M369.6,80.07 h-4.7 M42.5,70.75 h2.8 M369.6,70.75 h-2.8 M42.5,61.43 h2.8 M369.6,61.43 h-2.8 M42.5,52.11 h2.8 M369.6,52.11 h-2.8 M42.5,42.79 h4.7 M369.6,42.79 h-4.7 M42.5,33.46 h2.8 M369.6,33.46 h-2.8 M42.5,24.14 h2.8 M369.6,24.14 h-2.8 M42.5,14.82 h2.8 M369.6,14.82 h-2.8 M42.5,5.50 h4.7 M369.6,5.50 h-4.7" stroke="#787878" stroke-width="1" fill="none"/>
<g fill="#000" stroke="#000" stroke-width="0.25" style="filter:grayscale(1)">
<text x="67.76" y="279.8" text-anchor="middle" font-size="10.3">2</text>
<text x="118.08" y="279.8" text-anchor="middle" font-size="10.3">3</text>
<text x="168.41" y="279.8" text-anchor="middle" font-size="10.3">4</text>
<text x="218.73" y="279.8" text-anchor="middle" font-size="10.3">5</text>
<text x="269.05" y="279.8" text-anchor="middle" font-size="10.3">6</text>
<text x="319.38" y="279.8" text-anchor="middle" font-size="10.3">7</text>
<text x="369.70" y="279.8" text-anchor="middle" font-size="10.3">8</text>
<text transform="translate(39.2,270.05) scale(1.06,1)" text-anchor="end" font-size="10">0.00</text>
<text transform="translate(39.2,232.76) scale(1.06,1)" text-anchor="end" font-size="10">0.02</text>
<text transform="translate(39.2,195.48) scale(1.06,1)" text-anchor="end" font-size="10">0.04</text>
<text transform="translate(39.2,158.19) scale(1.06,1)" text-anchor="end" font-size="10">0.06</text>
<text transform="translate(39.2,120.91) scale(1.06,1)" text-anchor="end" font-size="10">0.08</text>
<text transform="translate(39.2,83.62) scale(1.06,1)" text-anchor="end" font-size="10">0.10</text>
<text transform="translate(39.2,46.34) scale(1.06,1)" text-anchor="end" font-size="10">0.12</text>
<text transform="translate(39.2,9.05) scale(1.06,1)" text-anchor="end" font-size="10">0.14</text>
<text x="206.3" y="299.8" text-anchor="middle" font-size="11">r</text>
<text transform="translate(10.3,135.8) rotate(-90)" text-anchor="middle" font-size="10.5"><tspan font-style="italic">ρ</tspan>(r)+<tspan font-style="italic">P</tspan><tspan font-style="italic" font-size="7.5" dy="2">r</tspan><tspan dy="-2">(r)</tspan></text>
</g>
<g style="filter:grayscale(0)" class="lg">
<rect x="268.9" y="13.3" width="92.0" height="115.10000000000001" rx="5.5" ry="5.5" fill="#ffeaea" stroke="#000" stroke-width="1.7"/>
<path d="M275.4,27.5 H305.3" stroke="#00ffff" stroke-width="2" fill="none" stroke-dasharray="1.3 4 5.3 3.5"/>
<text transform="translate(314.2,30.4) scale(1.05,1)" font-size="12.1"><tspan font-style="italic">λ</tspan>=0.11</text>
<path d="M275.6,49.7 H306.2" stroke="#ff0000" stroke-width="2" fill="none" stroke-dasharray="2.9 1.97"/>
<text transform="translate(314.2,52.6) scale(1.05,1)" font-size="12.1"><tspan font-style="italic">λ</tspan>=0.13</text>
<path d="M276,72.3 H306.3" stroke="#0000ff" stroke-width="2" fill="none" stroke-dasharray="7.2 6.9"/>
<text transform="translate(314.2,75.2) scale(1.05,1)" font-size="12.1"><tspan font-style="italic">λ</tspan>=0.15</text>
<path d="M276,94.8 H306.3" stroke="#00ff00" stroke-width="2" fill="none" stroke-dasharray="11 10.7"/>
<text transform="translate(314.2,97.7) scale(1.05,1)" font-size="12.1"><tspan font-style="italic">λ</tspan>=0.17</text>
<path d="M274.8,117.4 H307" stroke="#800080" stroke-width="2" fill="none"/>
<text transform="translate(314.2,120.3) scale(1.05,1)" font-size="12.1"><tspan font-style="italic">λ</tspan>=0.19</text>
</g>
</svg>
</body></html>
